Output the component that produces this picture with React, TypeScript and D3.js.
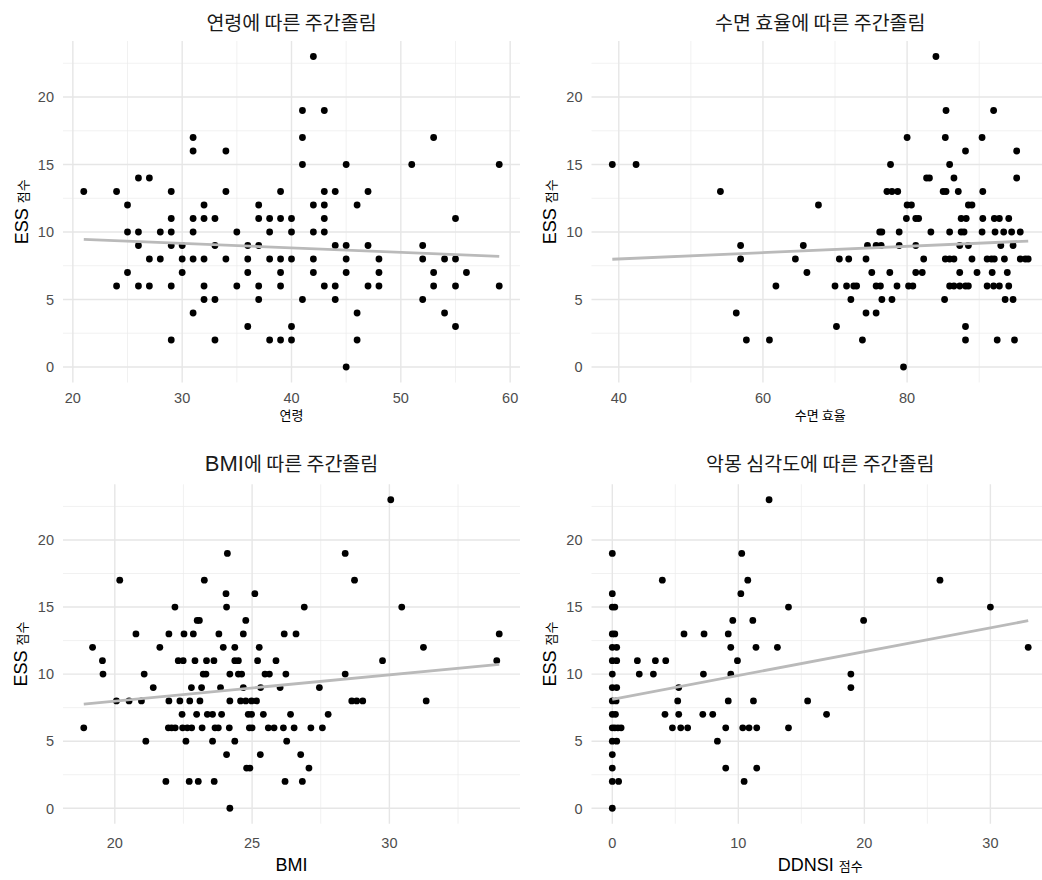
import React from "react";
import * as d3 from "d3";

// ---------- DATA ----------
const agePoints: [number, number][] = [
  [21,13],[24,13],[24,6],[25,12],[25,10],[25,7],[26,14],[26,10],[26,9],[26,6],[27,14],[27,8],[27,6],
  [28,10],[28,8],[29,13],[29,11],[29,10],[29,9],[29,6],[29,2],[30,9],[30,8],[30,7],[31,17],[31,16],
  [31,11],[31,10],[31,8],[31,4],[32,12],[32,11],[32,8],[32,6],[32,5],[33,11],[33,9],[33,5],[33,2],
  [34,16],[34,13],[34,8],[35,10],[35,6],[36,9],[36,8],[36,7],[36,3],[37,12],[37,11],[37,9],[37,6],[37,5],
  [38,11],[38,10],[38,8],[38,2],[39,13],[39,11],[39,8],[39,7],[39,6],[39,2],[40,11],[40,10],[40,8],[40,3],
  [40,2],[41,19],[41,17],[41,15],[41,5],[42,23],[42,12],[42,10],[42,8],[42,7],[43,19],[43,13],[43,12],
  [43,11],[43,10],[43,6],[44,13],[44,9],[44,6],[44,5],[45,15],[45,9],[45,8],[45,7],[45,0],[46,12],[46,4],
  [46,2],[47,13],[47,9],[47,6],[48,8],[48,7],[48,6],[51,15],[52,9],[52,8],[52,5],[53,17],[53,7],[53,6],
  [54,8],[54,4],[55,11],[55,8],[55,6],[55,3],[56,7],[59,15],[59,6],
];

const sleepEffPoints: [number, number][] = [
  [39.1,15],[42.4,15],[54.1,13],[56.9,9],[56.9,8],[56.3,4],[57.7,2],[60.9,2],[61.8,6],[64.5,8],[65.6,9],
  [66.1,7],[67.7,12],
  [70.2,3],[70.0,6],[70.6,8],[71.9,8],[71.6,6],[72.6,6],[73.0,6],[72.2,5],[73.8,2],[74.3,8],[74.5,9],
  [74.3,4],[75.1,7],[75.7,9],[76.4,9],[75.7,6],[76.3,6],[75.7,4],[76.2,10],[76.5,10],[76.5,5],[77.2,13],
  [77.9,13],[78.7,13],[77.7,15],[77.6,7],[77.9,5],[78.6,6],[78.9,10],[78.9,9],[79.5,0],[80.0,17],[80.0,12],
  [80.6,12],[79.9,11],[81.2,11],[81.6,11],[81.2,9],[81.2,7],[82.1,7],[80.2,6],[80.8,6],[82.7,14],
  [84.0,23],[85.4,19],[92.0,19],[85.3,17],[90.4,17],[88.1,16],[95.2,16],[85.9,15],[83.1,14],[86.5,14],
  [95.2,14],[85.0,13],[85.4,13],[87.1,13],[90.5,13],[88.5,12],[89.0,12],[87.5,11],[88.2,11],[90.5,11],
  [92.1,11],[92.8,11],[94.1,11],[83.3,10],[85.9,10],[87.5,10],[87.9,10],[90.4,10],[92.2,10],[93.4,10],
  [94.5,10],[95.7,10],[87.3,9],[88.5,9],[93.0,9],[94.7,9],[82.3,8],[85.3,8],[85.9,8],[86.5,8],[89.0,8],
  [91.1,8],[91.7,8],[92.1,8],[93.5,8],[95.7,8],[96.4,8],[96.8,8],[87.3,7],[89.7,7],[91.8,7],[93.9,7],
  [85.9,6],[86.5,6],[87.3,6],[88.1,6],[88.5,6],[91.1,6],[92.0,6],[92.8,6],[94.1,6],[85.2,5],[93.6,5],
  [94.7,5],[88.1,3],[88.1,2],[92.5,2],[94.9,2],
];

const bmiPoints: [number, number][] = [
  [18.87,6],[19.19,12],[19.55,11],[19.57,10],[20.06,8],[20.18,17],[20.52,8],[20.77,13],[20.97,8],
  [21.07,10],[21.13,5],
  [23.26,17],[24.05,16],[25.1,16],[22.19,15],[24.07,15],[23.0,14],[23.08,14],[24.77,14],[21.97,13],
  [22.52,13],[22.86,13],[23.79,13],[24.68,13],[21.64,12],[23.95,12],[24.37,12],[25.26,12],[22.31,11],
  [22.49,11],[22.92,11],[23.34,11],[23.61,11],[24.37,11],[24.5,11],[25.2,11],[23.22,10],[23.32,10],
  [24.19,10],[24.5,10],[24.62,10],[21.4,9],[22.79,9],[23.16,9],[23.85,9],[24.68,9],[25.31,9],[21.97,8],
  [22.37,8],[22.73,8],[23.1,8],[24.19,8],[24.58,8],[24.77,8],[24.98,8],[25.16,8],[22.45,7],[22.98,7],
  [23.37,7],[23.56,7],[23.89,7],[24.86,7],[24.98,7],[21.95,6],[22.07,6],[22.2,6],[22.47,6],[22.64,6],
  [22.8,6],[23.18,6],[23.65,6],[23.77,6],[24.17,6],[24.9,6],[25.0,6],[22.59,5],[23.56,5],[24.37,5],
  [24.07,4],[25.3,4],[24.8,3],[24.92,3],[21.86,2],[22.71,2],[23.04,2],[23.62,2],[24.19,0],[24.1,19],
  [26.9,15],[26.17,13],[26.6,13],[25.87,11],[25.47,10],[25.63,10],[26.23,10],[28.39,10],[26.02,9],
  [27.45,9],[25.41,7],[26.4,7],[27.77,7],[25.59,6],[25.8,6],[26.14,6],[26.53,6],[27.14,6],[27.56,6],
  [26.26,5],[26.77,4],[27.07,3],[26.2,2],[26.83,2],
  [30.05,23],[28.39,19],[28.73,17],[30.45,15],[34.0,13],[31.24,12],[29.75,11],[33.91,11],[28.63,8],
  [28.81,8],[29.03,8],[31.34,8],
];

const ddnsiPoints: [number, number][] = [
  [0,19],[0,16],[0,15],[0.2,15],[0,13],[0.2,13],[0,12],[0.35,12],[0,11],[0.35,11],[0,10],[0,9],[0.35,9],
  [0,8],[0.3,8],[0,7],[0.25,7],[0,6],[0.2,6],[0.45,6],[0.7,6],[0,5],[0.35,5],[0,4],[0,3],[0,2],[0.5,2],[0,0],
  [1.99,11],[2.14,10],[3.26,10],[3.42,11],[4.24,11],[3.97,17],[4.18,7],[4.77,6],[5.19,8],[5.27,9],[5.27,7],
  [5.43,6],[5.98,6],[5.69,13],[7.18,7],[7.97,7],[7.23,10],[7.28,13],[8.34,5],[9.0,6],[9.0,3],[9.2,13],
  [9.2,8],[9.4,12],[9.4,10],[9.56,14],[9.93,11],[10.2,16],[10.27,19],[10.75,17],[10.35,6],[10.85,6],
  [10.46,2],[11.15,14],[11.2,8],[11.4,12],[11.46,6],[11.46,3],[12.44,23],[13.1,12],[13.98,15],[13.98,6],
  [15.5,8],[17.0,7],[18.93,10],[18.93,9],[19.94,14],[26.0,17],[30.0,15],[33.0,12],
];

// fitted (lm) lines: [x, ESS] at both ends
const ageFit: [number, number][] = [[21, 9.45], [59, 8.2]];
const sleepEffFit: [number, number][] = [[39.1, 7.98], [96.8, 9.33]];
const bmiFit: [number, number][] = [[18.87, 7.77], [34.0, 10.73]];
const ddnsiFit: [number, number][] = [[0, 8.12], [33, 13.98]];

const ageTicks = [20, 30, 40, 50, 60];
const sleepEffTicks = [40, 60, 80];
const bmiTicks = [20, 25, 30];
const ddnsiTicks = [0, 10, 20, 30];
const essTicks = [0, 5, 10, 15, 20];

const panelTitles = ["연령에 따른 주간졸림", "수면 효율에 따른 주간졸림", "BMI에 따른 주간졸림", "악몽 심각도에 따른 주간졸림"];
const xTitles = ["연령", "수면 효율", "BMI", "DDNSI 점수"];
const yTitle = "ESS 점수";

// ---------- LAYOUT ----------
const LATIN = "'Liberation Sans', Arial, sans-serif";
const KO = "'Noto Sans CJK KR', sans-serif";

type Box = { left: number; right: number; top: number; bottom: number; titleY: number; xTickY: number; xTitleY: number; yTitleX: number };
const boxes: Box[] = [
  { left: 63, right: 520, top: 41, bottom: 382.5, titleY: 22, xTickY: 398, xTitleY: 414, yTitleX: 22 },
  { left: 591.5, right: 1049, top: 41, bottom: 382.5, titleY: 22, xTickY: 398, xTitleY: 414, yTitleX: 550 },
  { left: 63, right: 520, top: 484.3, bottom: 823.7, titleY: 463, xTickY: 843, xTitleY: 865, yTitleX: 21 },
  { left: 591.5, right: 1049, top: 484.3, bottom: 823.7, titleY: 463, xTickY: 843, xTitleY: 865, yTitleX: 550 },
];

function runs(s: string): { text: string; ko: boolean }[] {
  const out: { text: string; ko: boolean }[] = [];
  for (const ch of s) {
    const isKo = /[\u3131-\uD79D]/.test(ch);
    const isSpace = ch === " ";
    if (out.length && (isSpace || out[out.length - 1].ko === isKo)) out[out.length - 1].text += ch;
    else out.push({ text: ch, ko: isKo });
  }
  return out;
}

function MixedText({ s, latinSize, koSize, ...rest }: any) {
  return (
    <text {...rest}>
      {runs(s).map((r, i) => (
        <tspan key={i} fontFamily={r.ko ? KO : LATIN} fontSize={r.ko ? koSize : latinSize}>
          {r.text}
        </tspan>
      ))}
    </text>
  );
}

function expand(ext: [number, number]): [number, number] {
  const d = (ext[1] - ext[0]) * 0.05;
  return [ext[0] - d, ext[1] + d];
}

const allEss = [...agePoints, ...sleepEffPoints, ...bmiPoints, ...ddnsiPoints].map((p) => p[1]);
const yDomain = expand(d3.extent(allEss) as [number, number]);

function Panel({ i, pts, fit, ticks }: { i: number; pts: [number, number][]; fit: [number, number][]; ticks: number[] }) {
  const b = boxes[i];
  const x = d3.scaleLinear().domain(expand(d3.extent(pts, (p) => p[0]) as [number, number])).range([b.left, b.right]);
  const y = d3.scaleLinear().domain(yDomain).range([b.bottom, b.top]);
  const [x0, x1] = x.domain();
  const [y0, y1] = y.domain();
  const step = ticks[1] - ticks[0];
  const xMinor: number[] = [];
  for (let v = ticks[0] - step / 2; v <= x1; v += step) if (v >= x0) xMinor.push(v);
  const yStep = essTicks[1] - essTicks[0];
  const yMinor: number[] = [];
  for (let v = essTicks[0] - yStep / 2; v <= y1; v += yStep) if (v >= y0) yMinor.push(v);
  const line = d3.line<[number, number]>().x((d) => x(d[0])).y((d) => y(d[1]));
  const cx = (b.left + b.right) / 2;
  const cy = (b.top + b.bottom) / 2;
  return (
    <g>
      {yMinor.map((v) => (
        <line key={"ym" + v} x1={b.left} x2={b.right} y1={y(v)} y2={y(v)} stroke="#ebebeb" strokeWidth={0.7} />
      ))}
      {xMinor.map((v) => (
        <line key={"xm" + v} x1={x(v)} x2={x(v)} y1={b.top} y2={b.bottom} stroke="#ebebeb" strokeWidth={0.7} />
      ))}
      {essTicks.map((v) => (
        <line key={"yM" + v} x1={b.left} x2={b.right} y1={y(v)} y2={y(v)} stroke="#e6e6e6" strokeWidth={1.4} />
      ))}
      {ticks.map((v) => (
        <line key={"xM" + v} x1={x(v)} x2={x(v)} y1={b.top} y2={b.bottom} stroke="#e6e6e6" strokeWidth={1.4} />
      ))}
      {pts.map((p, k) => (
        <circle key={k} cx={x(p[0])} cy={y(p[1])} r={3.4} fill="#000" />
      ))}
      <path d={line(fit) || ""} fill="none" stroke="#bababa" strokeWidth={2.8} />
      {essTicks.map((v) => (
        <text key={"yt" + v} x={b.left - 9} y={y(v) + 5.3} textAnchor="end" fontFamily={LATIN} fontSize={14.5} fill="#4d4d4d">
          {v}
        </text>
      ))}
      {ticks.map((v) => (
        <text key={"xt" + v} x={x(v)} y={b.xTickY + 5.3} textAnchor="middle" fontFamily={LATIN} fontSize={14.5} fill="#4d4d4d">
          {v}
        </text>
      ))}
      <MixedText s={panelTitles[i]} latinSize={22} koSize={19.5} x={cx} y={b.titleY + 7.5} textAnchor="middle" fill="#1a1a1a" />
      <MixedText s={xTitles[i]} latinSize={18} koSize={13} x={cx} y={b.xTitleY + 6} textAnchor="middle" fill="#000" />
      <MixedText
        s={yTitle}
        latinSize={18}
        koSize={13}
        x={0}
        y={0}
        textAnchor="middle"
        fill="#000"
        transform={`translate(${b.yTitleX + 6.3},${cy}) rotate(-90)`}
      />
    </g>
  );
}

export default function App() {
  return (
    <div style={{ position: "absolute", left: 0, top: 0 }}>
      <svg width={1042} height={880} style={{ display: "block", background: "#fff" }}>
        <Panel i={0} pts={agePoints} fit={ageFit} ticks={ageTicks} />
        <Panel i={1} pts={sleepEffPoints} fit={sleepEffFit} ticks={sleepEffTicks} />
        <Panel i={2} pts={bmiPoints} fit={bmiFit} ticks={bmiTicks} />
        <Panel i={3} pts={ddnsiPoints} fit={ddnsiFit} ticks={ddnsiTicks} />
      </svg>
    </div>
  );
}
